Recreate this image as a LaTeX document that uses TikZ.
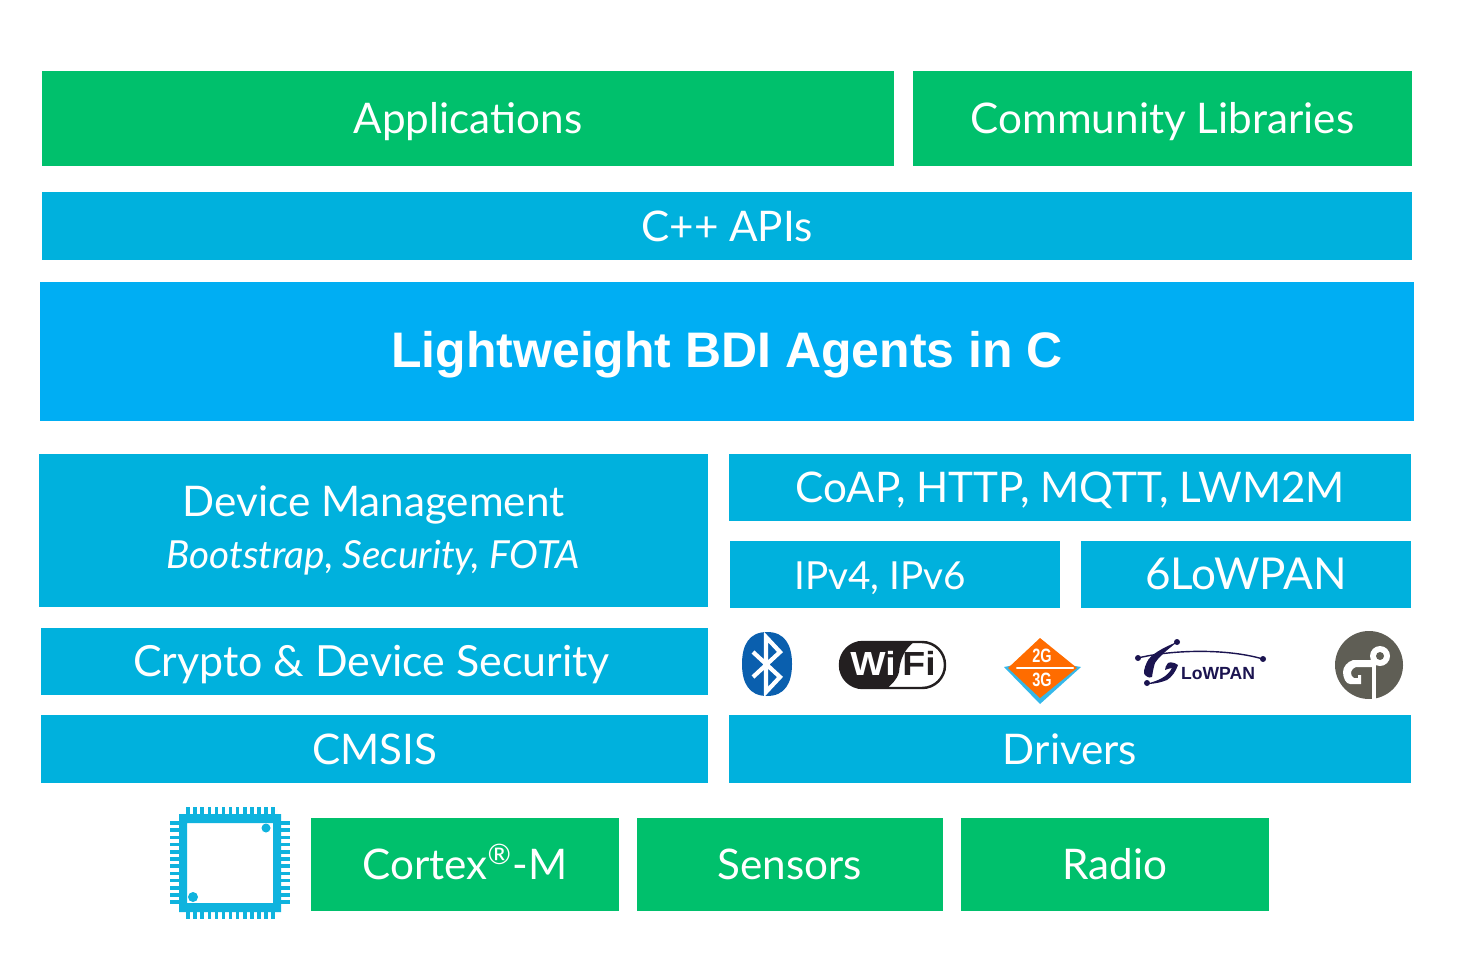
\documentclass[tikz,border=0pt]{standalone}
\usepackage{fontspec}
\setmainfont{Lato}
\newfontfamily\titlefont{Liberation Sans}
\definecolor{stackgreen}{HTML}{00C06C}
\definecolor{stackblue}{HTML}{00B1DD}
\definecolor{agentblue}{HTML}{00AEF3}
\definecolor{btblue}{HTML}{0A5FAE}
\definecolor{wifiblack}{HTML}{231F20}
\definecolor{cellorange}{HTML}{FF6C00}
\definecolor{cellshade}{HTML}{35B8EA}
\definecolor{lowpannavy}{HTML}{1B1450}
\definecolor{gpgrey}{HTML}{5F5E55}
\definecolor{chipblue}{HTML}{0FB3DE}
\tikzset{
  layer/.style={inner sep=0pt,text=white,font=\fontsize{12}{14.8}\selectfont,align=center},
  oneline/.style={text height=8.6pt,text depth=0pt},
  greenbar/.style={layer,oneline,fill=stackgreen},
  bluebar/.style={layer,oneline,fill=stackblue},
}
\begin{document}
\begin{tikzpicture}[x=.01cm,y=-.01cm,line join=round,line cap=round]
\useasboundingbox (0,0) rectangle (1458,973);
% upper rows
\node[greenbar,minimum width=8.52cm,minimum height=.95cm] (apps) at (468,118.5) {Applications};
\node[greenbar,minimum width=4.99cm,minimum height=.95cm] (community) at (1162.5,118.5) {Community Libraries};
\node[bluebar,minimum width=13.7cm,minimum height=.68cm] (cpp) at (727,226) {C++ APIs};
\node[layer,oneline,fill=agentblue,minimum width=13.74cm,minimum height=1.39cm,text height=9.2pt,font=\titlefont\bfseries\fontsize{14.2}{18}\selectfont] (bdi) at (727,351.5) {Lightweight BDI Agents in C};
% left column
\node[layer,fill=stackblue,minimum width=6.69cm,minimum height=1.53cm] (mgmt) at (373.5,530.5) {Device Management\\\fontsize{11}{14.8}\selectfont\itshape Bootstrap, Security, FOTA};
\node[bluebar,minimum width=6.67cm,minimum height=.67cm,font=\fontsize{12.2}{14.8}\selectfont] (crypto) at (374.5,661.5) {Crypto \& Device Security\hspace*{1.7pt}};
\node[bluebar,minimum width=6.67cm,minimum height=.68cm] (cmsis) at (374.5,749) {CMSIS};
% right column
\node[bluebar,minimum width=6.82cm,minimum height=.67cm] (coap) at (1070,487.5) {CoAP, HTTP, MQTT, LWM2M};
\node[bluebar,minimum width=3.3cm,minimum height=.67cm,font=\fontsize{11}{14}\selectfont] (ip) at (895,574.5) {IPv4, IPv6\hspace*{8.5pt}};
\node[bluebar,minimum width=3.3cm,minimum height=.67cm,font=\fontsize{12.5}{14.8}\selectfont] (lowpan) at (1246,574.5) {6LoWPAN};
\node[bluebar,minimum width=6.82cm,minimum height=.68cm] (drivers) at (1070,749) {Drivers};
% hardware
\node[greenbar,minimum width=3.08cm,minimum height=.93cm] (cortex) at (465,864.5) {Cortex\textsuperscript{®}-M};
\node[greenbar,minimum width=3.06cm,minimum height=.93cm] (sensors) at (790,864.5) {Sensors};
\node[greenbar,minimum width=3.08cm,minimum height=.93cm] (radio) at (1115,864.5) {Radio};
% chip
\fill[chipblue,even odd rule] (179,814) rectangle (281,912) (187,823) rectangle (273,903);
\foreach \x in {0,...,12}{
  \draw[chipblue,line width=1pt,line cap=butt] (188+7.1*\x,807)--(188+7.1*\x,814) (188+7.1*\x,912)--(188+7.1*\x,919);
}
\foreach \y in {0,...,11}{
  \draw[chipblue,line width=1pt,line cap=butt] (170,823+7.2*\y)--(179,823+7.2*\y) (281,823+7.2*\y)--(290,823+7.2*\y);
}
\fill[chipblue] (266,828) circle (4.5) (193,897) circle (5);
% bluetooth
\fill[btblue] (767,632) .. controls (785,632) and (792,645) .. (792,664) .. controls (792,683) and (785,696) .. (767,696) .. controls (749,696) and (742,683) .. (742,664) .. controls (742,645) and (749,632) .. (767,632);
\draw[white,line width=1.2pt,line cap=butt,miter limit=4,line join=miter] (753,652)--(780,677)--(766,692)--(766,637)--(780,652)--(753,677);
% wifi
\begin{scope}
\clip[rounded corners=6.5pt] (840,642) rectangle (945,688);
\fill[wifiblack] (835,640) -- (917,640) .. controls (904,648) and (900,660) .. (899,672) .. controls (897,680) and (891,685) .. (885,690) -- (835,690) -- cycle;
\end{scope}
\draw[wifiblack,line width=.7pt,rounded corners=6.5pt] (840,642) rectangle (945,688);
\node[text=white,font=\titlefont\bfseries\fontsize{9.5}{10}\selectfont,inner sep=0pt,xscale=1.12] (wi) at (873,663) {Wi};
\node[text=wifiblack,font=\titlefont\bfseries\fontsize{9.5}{10}\selectfont,inner sep=0pt,xscale=1.12] (fi) at (919,663) {Fi};
% 2G 3G
\fill[cellshade] (1004,667)--(1040,704)--(1081,667)--(1040,660)--cycle;
\fill[cellorange] (1040,638)--(1077,668)--(1040,698)--(1008,668)--cycle;
\draw[white,line width=.6pt] (1017,668)--(1073,668);
\node[text=white,font=\titlefont\bfseries\fontsize{5.5}{6}\selectfont,xscale=.75,inner sep=0pt] (twog) at (1042,656) {2G};
\node[text=white,font=\titlefont\bfseries\fontsize{5.5}{6}\selectfont,xscale=.75,inner sep=0pt] (threeg) at (1042,680) {3G};
% 6lowpan
\draw[lowpannavy,line width=.4pt] (1138,658) .. controls (1170,650) and (1225,648) .. (1263,659);
\fill[lowpannavy] (1177,642) .. controls (1162,648) and (1150,655) .. (1147,662) .. controls (1144,668) and (1143,674) .. (1145,675) .. controls (1148,678) and (1151,678) .. (1152,677) .. controls (1153,670) and (1154,666) .. (1155,663) .. controls (1160,655) and (1170,648) .. (1177,642);
\fill[lowpannavy] (1147,684) .. controls (1155,684) and (1162,682) .. (1167,680) .. controls (1172,677) and (1176,671) .. (1178,665) .. controls (1174,662) and (1170,662) .. (1168,663) .. controls (1166,665) and (1165,668) .. (1165,670) .. controls (1168,669) and (1170,668) .. (1172,668) .. controls (1170,672) and (1166,676) .. (1162,678) .. controls (1157,681) and (1152,682) .. (1147,684);
\foreach \d in {(1138,658),(1177,642),(1263,659),(1147,683)} \fill[lowpannavy] \d circle (3);
\node[text=lowpannavy,font=\titlefont\bfseries\fontsize{5}{6}\selectfont,inner sep=0pt] (lowpanlogo) at (1218,674) {LoWPAN};
% gp
\fill[gpgrey] (1369,665) circle (34);
\fill[white] (1372,660) -- (1353,660) .. controls (1347,662) and (1343,667) .. (1343,672) .. controls (1343,678) and (1346,684) .. (1350,684) -- (1361,684) -- (1361,675) -- (1358,675) -- (1358,678) -- (1354,678) .. controls (1352,677) and (1351,675) .. (1351,673) .. controls (1351,670) and (1354,667) .. (1357,667) -- (1372,667) -- cycle;
\fill[white] (1372,656) rectangle (1376,699);
\fill[white] (1380,656) circle (10);
\fill[gpgrey] (1380,656) circle (4);
\end{tikzpicture}
\end{document}
